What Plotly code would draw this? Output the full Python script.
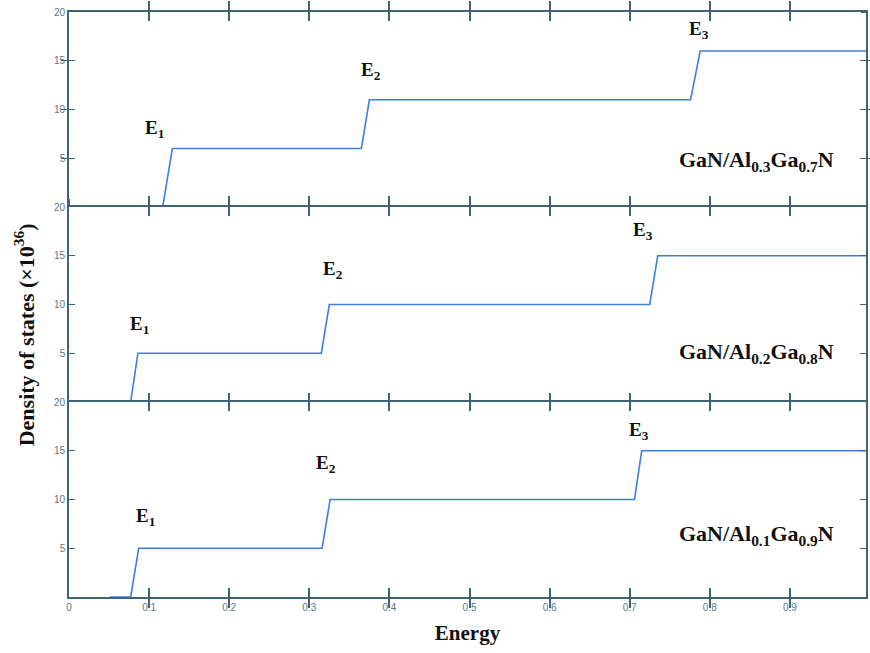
import plotly.graph_objects as go

# Data: step-like density of states for three structures (top -> bottom)
energy_al03 = [0.117, 0.129, 0.365, 0.375, 0.776, 0.788, 1.0]
dos_al03 = [0, 6, 6, 11, 11, 16, 16]

energy_al02 = [0.077, 0.086, 0.315, 0.325, 0.725, 0.735, 1.0]
dos_al02 = [0, 5, 5, 10, 10, 15, 15]

energy_al01 = [0.051, 0.077, 0.087, 0.316, 0.326, 0.706, 0.715, 1.0]
dos_al01 = [0, 0, 5, 5, 10, 10, 15, 15]

labels = ["GaN/Al<sub>0.3</sub>Ga<sub>0.7</sub>N",
          "GaN/Al<sub>0.2</sub>Ga<sub>0.8</sub>N",
          "GaN/Al<sub>0.1</sub>Ga<sub>0.9</sub>N"]
level_labels = ["E<sub>1</sub>", "E<sub>2</sub>", "E<sub>3</sub>"]
level_pos = [
    [(0.107, 8.0), (0.377, 14.0), (0.786, 18.2)],
    [(0.088, 7.9), (0.329, 13.5), (0.717, 17.5)],
    [(0.095, 8.2), (0.321, 13.6), (0.711, 17.0)],
]
label_pos = [(0.858, 4.7), (0.858, 5.0), (0.858, 6.4)]

x_range = [0, 0.995]
x_tick_step = 0.1
y_range = [0, 20]
y_ticks = [5, 10, 15, 20]

series = [(energy_al03, dos_al03), (energy_al02, dos_al02), (energy_al01, dos_al01)]
domains = [[2 / 3, 1.0], [1 / 3, 2 / 3], [0.0, 1 / 3]]

W, H = 870, 653
margin = dict(l=69, r=2, t=12, b=56)
plot_w = W - margin["l"] - margin["r"]
plot_h = H - margin["t"] - margin["b"]
xtick_len, ytick_len = 9, 6

line_color = "#3d7fdc"
axis_color = "#3f6474"
tick_font = dict(family="Liberation Sans, Arial", size=10, color="#5c7585")
serif_bold = "Liberation Serif, Times New Roman, serif"

fig = go.Figure()
layout = {}
for i, (x, y) in enumerate(series, start=1):
    xa = "x" if i == 1 else f"x{i}"
    ya = "y" if i == 1 else f"y{i}"
    fig.add_trace(go.Scatter(x=x, y=y, mode="lines", xaxis=xa, yaxis=ya,
                             line=dict(color=line_color, width=1.6),
                             showlegend=False))
    layout["xaxis" if i == 1 else f"xaxis{i}"] = dict(
        domain=[0, 1], anchor=ya, range=x_range, tickmode="linear",
        tick0=0, dtick=x_tick_step, ticks="inside", ticklen=xtick_len,
        tickwidth=1.5, tickcolor=axis_color, showline=True, linecolor=axis_color,
        linewidth=1.6, mirror="allticks", showgrid=False, zeroline=False,
        showticklabels=(i == 3), tickfont=tick_font)
    layout["yaxis" if i == 1 else f"yaxis{i}"] = dict(
        domain=domains[i - 1], anchor=xa, range=y_range, tickmode="array",
        tickvals=y_ticks, ticks="inside", ticklen=ytick_len, tickwidth=1.2,
        tickcolor=axis_color, showline=True, linecolor=axis_color, linewidth=1.6,
        mirror="allticks", showgrid=False, zeroline=False, tickfont=tick_font)
    # tick-only helper axis: ticks rising from each panel's lower edge
    layout[f"xaxis{i + 3}"] = dict(
        overlaying="x", anchor="free",
        position=domains[i - 1][0] + xtick_len / plot_h, side="bottom",
        range=x_range, tickmode="linear", tick0=0, dtick=x_tick_step,
        ticks="outside", ticklen=xtick_len, tickwidth=1.5, tickcolor=axis_color,
        showline=False, showgrid=False, zeroline=False, showticklabels=False)
    # tick-only helper axis: ticks on each panel's right edge
    layout[f"yaxis{i + 3}"] = dict(
        overlaying=ya, anchor="free", position=1 - ytick_len / plot_w,
        side="right", range=y_range, tickmode="array", tickvals=y_ticks,
        ticks="outside", ticklen=ytick_len, tickwidth=1.2, tickcolor=axis_color,
        showline=False, showgrid=False, zeroline=False, showticklabels=False)
    for txt, (ax, ay) in zip(level_labels, level_pos[i - 1]):
        fig.add_annotation(x=ax, y=ay, xref=xa, yref=ya, text=f"<b>{txt}</b>",
                           showarrow=False,
                           font=dict(family=serif_bold, size=19, color="#111111"))
    lx, ly = label_pos[i - 1]
    fig.add_annotation(x=lx, y=ly, xref=xa, yref=ya, text=f"<b>{labels[i - 1]}</b>",
                       showarrow=False,
                       font=dict(family=serif_bold, size=22, color="#111111"))

# empty helper traces so the tick-only axes are drawn
for i in range(3):
    fig.add_trace(go.Scatter(x=[], y=[], xaxis=f"x{i + 4}", yaxis="y",
                             showlegend=False, hoverinfo="skip"))
    fig.add_trace(go.Scatter(x=[], y=[], xaxis="x", yaxis=f"y{i + 4}",
                             showlegend=False, hoverinfo="skip"))

layout["xaxis3"]["title"] = dict(text="<b>Energy</b>", standoff=14,
                                 font=dict(family=serif_bold, size=21, color="#111111"))

fig.add_annotation(x=-0.056, y=0.448, xref="paper", yref="paper", xanchor="center",
                   yanchor="middle", textangle=-90, showarrow=False,
                   text="<b>Density of states (×10<sup>36</sup>)</b>",
                   font=dict(family=serif_bold, size=22, color="#111111"))

fig.update_layout(**layout)
fig.update_layout(width=W, height=H, margin=margin,
                  plot_bgcolor="white", paper_bgcolor="white")

fig.write_html("out.html")
